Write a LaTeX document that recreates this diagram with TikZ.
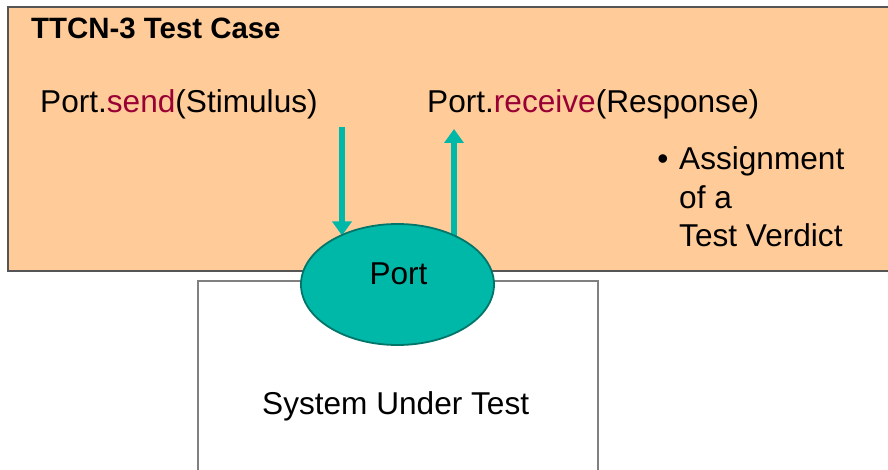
\documentclass[tikz,border=0pt]{standalone}
\usepackage{fontspec}
\setmainfont{Liberation Sans}
\usetikzlibrary{arrows.meta,shapes.geometric}
\definecolor{peach}{HTML}{FFCC99}
\definecolor{tealfill}{HTML}{00B8A8}
\definecolor{tealdark}{HTML}{00756A}
\definecolor{kwred}{HTML}{990033}
\definecolor{framegray}{HTML}{555555}
\definecolor{sutgray}{HTML}{808080}
\begin{document}
\begin{tikzpicture}[x=1pt,y=-1pt,
  txt/.style={inner sep=0pt, font=\fontsize{31.6}{38.5}\selectfont, anchor=base west},
  ttl/.style={inner sep=0pt, font=\fontsize{29.4}{32}\selectfont\bfseries, anchor=base west},
  flow/.style={draw=tealfill, line width=5.5pt, -{Triangle[width=19pt,length=14pt]}},
  portshape/.style={ellipse, draw=tealdark, fill=tealfill, line width=1.8pt,
    minimum width=193pt, minimum height=121pt, inner sep=0pt},
]
\clip (0,0) rectangle (888,470);
\useasboundingbox (0,0) rectangle (888,470);
% test case frame
\fill[peach] (8,7) rectangle (895,271);
\draw[framegray, line width=1.5pt] (895,7) -- (8,7) -- (8,271) -- (895,271);
% system under test
\draw[sutgray, line width=2pt, fill=white] (198,490) -- (198,281) -- (598,281) -- (598,490);
\node[txt] (sut) at (262,414) {System Under Test};
% texts
\node[ttl] (title) at (31,38.5) {TTCN-3 Test Case};
\node[txt] (send) at (40,113) {Port.\textcolor{kwred}{send}(Stimulus)};
\node[txt] (recv) at (427,113) {Port.\textcolor{kwred}{receive}(Response)};
\node[txt, anchor=base] (bullet) at (663,170) {•};
\node[txt] (verd1) at (679,170) {Assignment};
\node[txt] (verd2) at (679,208.5) {of a};
\node[txt] (verd3) at (679,247) {Test Verdict};
% arrows
\coordinate (sendtop) at (342,127);
\coordinate (sendend) at (342,235.5);
\coordinate (recvbot) at (454,250);
\coordinate (recvtip) at (454,129);
\draw[flow] (sendtop) -- (sendend);
\draw[flow] (recvbot) -- (recvtip);
% port
\node[portshape] (port) at (397.5,284.5) {};
\node[txt, anchor=base] (portlabel) at (398.5,284) {Port};
\end{tikzpicture}
\end{document}
